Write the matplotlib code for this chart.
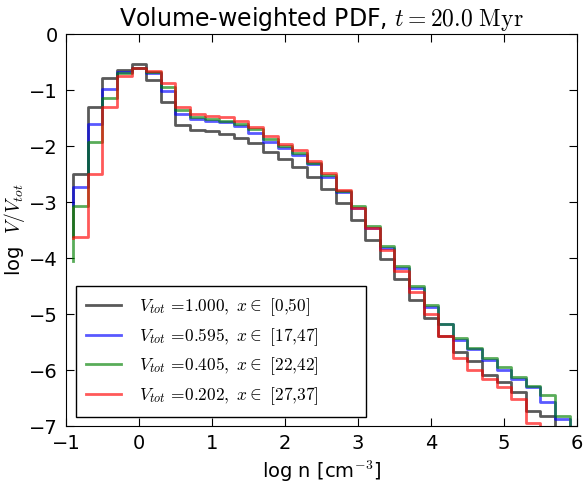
"""Volume-weighted density PDF, step lines."""
import matplotlib

matplotlib.use("Agg")
import matplotlib.pyplot as plt

plt.rcParams["mathtext.fontset"] = "cm"
plt.rcParams["font.family"] = ["DejaVu Sans"]

# bin edges in log n; first point is the start of each line, last one is past the axis
log_n = [-0.9, -0.7, -0.5, -0.3, -0.1, 0.1, 0.3, 0.5, 0.7, 0.9, 1.1, 1.3, 1.5,
         1.7, 1.9, 2.1, 2.3, 2.5, 2.7, 2.9, 3.1, 3.3, 3.5, 3.7, 3.9, 4.1, 4.3,
         4.5, 4.7, 4.9, 5.1, 5.3, 5.5, 5.7, 5.9, 6.1]

pdf_all = [-3.6, -2.50, -1.30, -0.79, -0.64, -0.54, -0.83, -1.22, -1.62, -1.71,
           -1.74, -1.79, -1.85, -1.95, -2.11, -2.23, -2.37, -2.55, -2.77, -3.02,
           -3.32, -3.67, -4.02, -4.38, -4.75, -5.08, -5.40, -5.67, -5.84, -6.09,
           -6.22, -6.40, -6.73, -6.83, -8.0, -8.0]
pdf_17_47 = [-3.05, -2.74, -1.60, -0.99, -0.67, -0.61, -0.70, -1.02, -1.42, -1.52,
             -1.55, -1.58, -1.64, -1.76, -1.92, -2.03, -2.16, -2.32, -2.55, -2.82,
             -3.11, -3.47, -3.83, -4.18, -4.54, -4.88, -5.17, -5.46, -5.63, -5.82,
             -6.00, -6.16, -6.31, -6.58, -6.88, -8.0]
pdf_22_42 = [-4.05, -3.07, -1.93, -1.15, -0.69, -0.61, -0.67, -0.94, -1.36, -1.49,
             -1.52, -1.55, -1.61, -1.70, -1.875, -2.00, -2.13, -2.30, -2.52, -2.80,
             -3.07, -3.42, -3.78, -4.14, -4.50, -4.84, -5.17, -5.42, -5.61, -5.78,
             -5.95, -6.12, -6.29, -6.45, -6.83, -8.0]
pdf_27_37 = [-3.65, -3.63, -2.50, -1.30, -0.75, -0.61, -0.66, -0.88, -1.30, -1.43,
             -1.46, -1.49, -1.55, -1.66, -1.82, -1.96, -2.08, -2.26, -2.49, -2.79,
             -3.11, -3.47, -3.86, -4.23, -4.61, -5.00, -5.40, -5.78, -6.00, -6.16,
             -6.30, -6.52, -6.94, -8.0, -8.0, -8.0]

labels = [
    r"$V_{tot}\,=\!1.000,\ x\in\ [0{,}50]$",
    r"$V_{tot}\,=\!0.595,\ x\in\ [17{,}47]$",
    r"$V_{tot}\,=\!0.405,\ x\in\ [22{,}42]$",
    r"$V_{tot}\,=\!0.202,\ x\in\ [27{,}37]$",
]
colors = ["k", "b", "g", "r"]

fig = plt.figure(figsize=(5.85, 4.83), dpi=100)
ax = fig.add_axes([0.1128, 0.118, 0.8735, 0.8116])

for vals, lab, col in zip([pdf_all, pdf_17_47, pdf_22_42, pdf_27_37], labels, colors):
    ax.step(log_n, vals, where="pre", color=col, alpha=0.65, lw=2, label=lab)

ax.set_xlim(-1, 6)
ax.set_ylim(-7, 0)
ax.tick_params(direction="in", top=True, right=True, length=6, labelsize=14, pad=6)
ax.set_xlabel(r"log n [cm$^{-3}$]", fontsize=14)
ax.set_ylabel(r"log  $V/V_{tot}$", fontsize=14, labelpad=1)
ax.set_title(r"Volume-weighted PDF, $t=20.0\ \mathrm{Myr}$", fontsize=17)

leg = ax.legend(loc="lower left", bbox_to_anchor=(0.0196, 0.023, 0.567, 0.31),
                mode="expand", borderaxespad=0, fontsize=12.5, fancybox=False,
                edgecolor="k", framealpha=1, handlelength=2.0, handletextpad=1.0,
                borderpad=0.6, labelspacing=0.45)
leg.get_frame().set_linewidth(1)

fig.savefig("out.png", dpi=100)
